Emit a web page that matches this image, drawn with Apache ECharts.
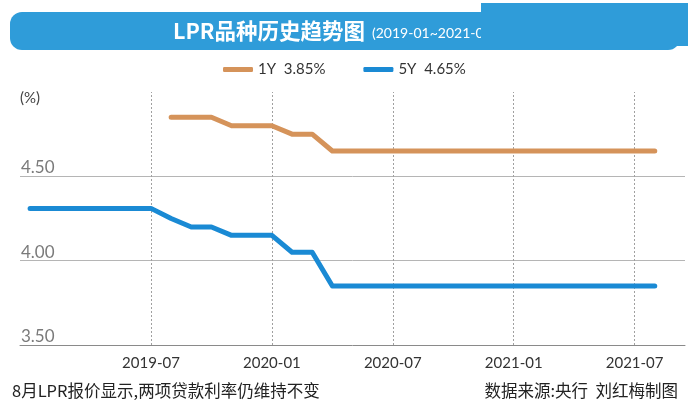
<!DOCTYPE html>
<html>
<head>
<meta charset="utf-8">
<script src="https://cdn.jsdelivr.net/npm/echarts@6/dist/echarts.min.js"></script>
<style>
html,body{margin:0;padding:0;background:#fff;}
#c{width:690px;height:413px;}
</style>
</head>
<body>
<div id="c"></div>
<script>
// Monthly categories 2019-01 .. 2021-09
var months = ['2019-01','2019-02','2019-03','2019-04','2019-05','2019-06','2019-07','2019-08','2019-09','2019-10','2019-11','2019-12',
  '2020-01','2020-02','2020-03','2020-04','2020-05','2020-06','2020-07','2020-08','2020-09','2020-10','2020-11','2020-12',
  '2021-01','2021-02','2021-03','2021-04','2021-05','2021-06','2021-07','2021-08','2021-09'];
var tickLabels = ['2019-07','2020-01','2020-07','2021-01','2021-07'];
var seriesNames = ['1Y  3.85%', '5Y  4.65%'];
// orange line (legend "1Y 3.85%")
var orangeValues = [null,null,null,null,null,null,null,4.85,4.85,4.85,4.80,4.80,
  4.80,4.75,4.75,4.65,4.65,4.65,4.65,4.65,4.65,4.65,4.65,4.65,
  4.65,4.65,4.65,4.65,4.65,4.65,4.65,4.65,null];
// blue line (legend "5Y 4.65%")
var blueValues = [4.31,4.31,4.31,4.31,4.31,4.31,4.31,4.25,4.20,4.20,4.15,4.15,
  4.15,4.05,4.05,3.85,3.85,3.85,3.85,3.85,3.85,3.85,3.85,3.85,
  3.85,3.85,3.85,3.85,3.85,3.85,3.85,3.85,null];
var yTicks = [3.5, 4.0, 4.5, 5.0];

var chart = echarts.init(document.getElementById('c'));
var bannerBlue = '#2f9cd9';
chart.setOption({
  animation: false,
  backgroundColor: '#ffffff',
  grid: {left: 20, right: 5, top: 92, bottom: 68},
  legend: {
    left: 218, top: 57,
    itemWidth: 30, itemHeight: 5, itemGap: 38,
    icon: 'roundRect',
    textStyle: {fontFamily: 'Lato', fontSize: 15, color: '#333'},
    data: seriesNames
  },
  xAxis: {
    type: 'category',
    data: months,
    boundaryGap: true,
    axisLine: {show: true, lineStyle: {color: '#8a8a8a', width: 1}},
    axisTick: {show: false},
    axisLabel: {
      margin: 11,
      fontFamily: 'Lato', fontSize: 15, color: '#333',
      interval: function (i, v) { return tickLabels.indexOf(v) >= 0; }
    },
    splitLine: {show: false}
  },
  yAxis: {
    type: 'value',
    min: yTicks[0], max: yTicks[yTicks.length - 1], interval: 0.5,
    axisLine: {show: false},
    axisTick: {show: false},
    axisLabel: {
      inside: true, margin: 1,
      verticalAlign: 'bottom',
      showMaxLabel: false,
      fontFamily: 'Lato', fontSize: 17, color: '#7a7a7a',
      formatter: function (v) { return v.toFixed(2); }
    },
    splitLine: {show: true, showMaxLine: false, showMinLine: false, lineStyle: {color: '#b5b5b5', width: 1}}
  },
  series: [
    {
      name: seriesNames[0], type: 'line', data: orangeValues,
      symbol: 'none', connectNulls: false,
      lineStyle: {width: 5, color: '#d5935a', cap: 'round', join: 'round'},
      itemStyle: {color: '#d5935a'},
      z: 3,
      markLine: {
        silent: true, symbol: 'none', label: {show: false},
        lineStyle: {color: '#a0a0a0', type: [2, 2], width: 1},
        data: tickLabels.map(function (t) { return {xAxis: t}; }),
        z: 1
      }
    },
    {
      name: seriesNames[1], type: 'line', data: blueValues,
      symbol: 'none',
      lineStyle: {width: 5, color: '#1a8ad4', cap: 'round', join: 'round'},
      itemStyle: {color: '#1a8ad4'},
      z: 3
    }
  ],
  graphic: [
    {type: 'rect', shape: {x: 10, y: 12, width: 670, height: 38, r: 12}, style: {fill: bannerBlue}, z: 10},
    {type: 'text', x: 173, y: 31, style: {text: 'LPR品种历史趋势图', fill: '#fff', font: 'bold 21.5px "Noto Sans CJK SC", "Noto Sans"', verticalAlign: 'middle'}, z: 11},
    {type: 'text', x: 372, y: 33, style: {text: '(2019-01~2021-08)', fill: '#fff', font: '14px Lato, "Noto Sans"', verticalAlign: 'middle'}, z: 11},
    {type: 'rect', shape: {x: 481, y: 3, width: 207, height: 43}, style: {fill: bannerBlue}, z: 12},
    {type: 'text', x: 20, y: 98, style: {text: '(%)', fill: '#444', font: '15px Lato', verticalAlign: 'middle'}, z: 11},
    {type: 'text', x: 12, y: 391, style: {text: '8月LPR报价显示,两项贷款利率仍维持不变', fill: '#222', font: '16.5px "Noto Sans CJK SC"', verticalAlign: 'middle'}, z: 11},
    {type: 'text', x: 678, y: 391, style: {text: '数据来源:央行  刘红梅制图', fill: '#222', font: '16.5px "Noto Sans CJK SC"', verticalAlign: 'middle', align: 'right'}, z: 11}
  ]
});
</script>
</body>
</html>
